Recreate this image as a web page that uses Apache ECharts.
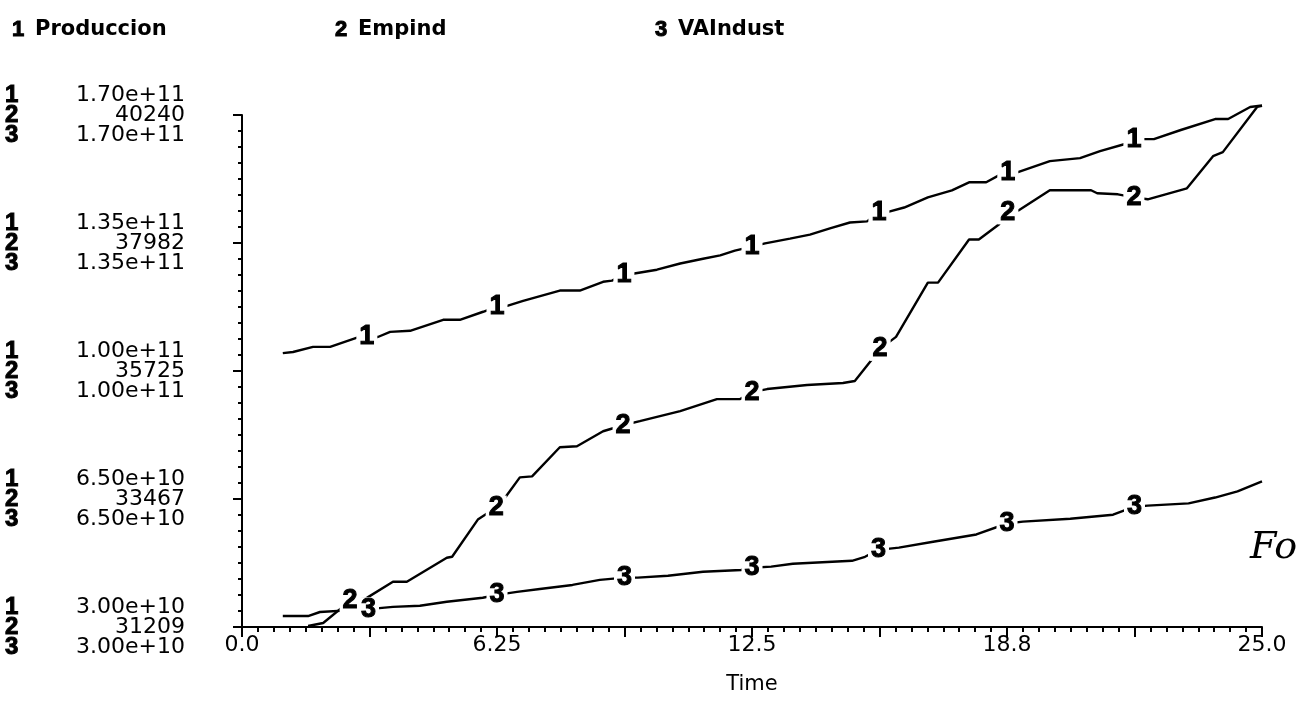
<!DOCTYPE html>
<html>
<head>
<meta charset="utf-8">
<script src="https://cdn.jsdelivr.net/npm/echarts@6/dist/echarts.min.js"></script>
<style>
  html, body { margin: 0; padding: 0; background: #fff; }
  #chart { width: 1296px; height: 709px; }
</style>
</head>
<body>
<div id="chart"></div>
<script>
// Series names, in plotting order (1, 2, 3)
const seriesNames = ['Produccion', 'Empind', 'VAIndust'];

// Produccion: [time, value in 1e9]
const produccion = [
  [1.00,104.9],[1.25,105.2],[1.74,106.6],[2.16,106.6],[2.82,109.1],[3.06,109.3],[3.33,109.3],
  [3.63,110.7],[4.12,111.0],[4.93,114.0],[5.34,114.0],[5.91,116.2],[6.25,117.6],[6.50,117.8],
  [6.89,119.2],[7.79,122.0],[8.28,122.0],[8.85,124.4],[9.07,124.7],[9.36,126.4],[9.58,126.6],
  [10.17,127.7],[10.74,129.4],[11.30,130.7],[11.72,131.6],[12.08,132.9],[12.5,134.0],[12.82,134.9],
  [13.43,136.2],[13.92,137.3],[14.41,139.0],[14.90,140.6],[15.32,140.9],[15.61,143.4],[15.86,143.6],
  [16.23,144.7],[16.81,147.5],[17.40,149.4],[17.82,151.6],[18.24,151.6],[18.55,153.5],[18.77,154.4],
  [19.02,154.4],[19.80,157.4],[20.54,158.2],[21.03,160.1],[21.62,162.0],[21.86,163.4],[22.35,163.4],
  [23.01,165.9],[23.85,168.9],[24.17,168.9],[24.71,172.2],[25.00,172.6]
];

// Empind: [time, value]
const empind = [
  [1.62,31227],[1.99,31280],[2.65,31669],[3.06,31723],[3.70,32006],[4.04,32006],[5.02,32431],
  [5.15,32449],[5.78,33104],[6.23,33316],[6.45,33493],[6.81,33848],[7.11,33865],[7.79,34379],
  [8.21,34396],[8.85,34662],[9.34,34768],[9.75,34839],[10.74,35016],[11.64,35229],[12.21,35229],
  [12.5,35353],[12.87,35406],[13.85,35477],[14.73,35512],[15.02,35548],[15.39,35884],[15.64,36114],
  [16.03,36327],[16.81,37283],[17.06,37283],[17.82,38044],[18.06,38044],[18.55,38310],[18.77,38522],
  [19.04,38558],[19.80,38912],[20.81,38912],[20.96,38859],[21.47,38841],[21.86,38788],[22.20,38753],
  [23.16,38947],[23.80,39514],[24.04,39585],[24.88,40382],[25.00,40400]
];

// VAIndust: [time, value in 1e9]
const vaindust = [
  [1.00,33.0],[1.62,33.0],[1.91,34.1],[3.10,34.9],[3.70,35.5],[4.36,35.8],[5.02,36.9],[5.90,38.0],
  [6.25,38.8],[6.74,39.6],[7.30,40.4],[8.10,41.5],[8.77,42.9],[9.375,43.5],[9.70,43.5],[10.44,44.0],
  [11.30,45.1],[12.23,45.6],[12.5,46.2],[12.97,46.5],[13.50,47.3],[14.95,48.1],[15.27,49.2],[15.6,51.1],
  [16.10,51.7],[16.94,53.3],[18.00,55.3],[18.75,58.3],[19.14,58.8],[20.30,59.6],[21.35,60.7],
  [21.875,62.9],[22.20,63.2],[23.20,63.8],[23.85,65.4],[24.40,67.1],[25.00,69.8]
];

// Times at which each curve carries its number tag
const tagTimes = [
  [3.06, 6.25, 9.36, 12.5, 15.61, 18.77, 21.86],
  [2.65, 6.23, 9.34, 12.5, 15.64, 18.77, 21.86],
  [3.10, 6.25, 9.375, 12.5, 15.6, 18.75, 21.875]
];

// Axis ticks and labels
const xTickValues = [0, 6.25, 12.5, 18.75, 25];
const xTickLabels = ['0.0', '6.25', '12.5', '18.8', '25.0'];
const yTickValues = [30, 65, 100, 135, 170];               // shared scale of series 1 and 3 (×1e9)
const yLabels13 = ['3.00e+10', '6.50e+10', '1.00e+11', '1.35e+11', '1.70e+11'];
const yLabels2 = ['31209', '33467', '35725', '37982', '40240'];
const empindMin = 31209, empindMax = 40240;

const lines = [produccion, empind, vaindust];
const axisIdx = [0, 1, 0];

const chart = echarts.init(document.getElementById('chart'), null, { renderer: 'canvas' });

// Heavy numerals used for the curve tags and the numbered keys
const heavy = {
  fontFamily: 'Liberation Sans',
  fontWeight: 'bold',
  color: '#000',
  textBorderColor: '#000',
  textBorderWidth: 1
};

const series = [];
lines.forEach((data, i) => {
  series.push({
    name: seriesNames[i],
    type: 'line',
    yAxisIndex: axisIdx[i],
    data: data,
    showSymbol: false,
    symbol: 'none',
    clip: false,
    lineStyle: { color: '#000', width: 2.4 },
    z: 2,
    silent: true
  });
  const tags = data.filter(p => tagTimes[i].includes(p[0]));
  series.push({
    type: 'scatter',
    yAxisIndex: axisIdx[i],
    data: tags,
    symbol: 'circle',
    symbolSize: 1,
    itemStyle: { color: '#fff', opacity: 1 },
    clip: false,
    z: 5,
    silent: true,
    label: Object.assign({
      show: true,
      position: 'inside',
      formatter: String(i + 1),
      fontSize: 27,
      opacity: 1,
      backgroundColor: '#fff',
      padding: [0, 3],
      lineHeight: 24
    }, heavy)
  });
});

// Header: numbered series names
const headerX = [12, 335, 655];
const graphics = [];
seriesNames.forEach((name, i) => {
  graphics.push({
    type: 'text', x: headerX[i], y: 30,
    style: { text: String(i + 1), fill: '#000', stroke: '#000', lineWidth: 1, font: 'bold 22px "Liberation Sans"', textVerticalAlign: 'middle' }
  });
  graphics.push({
    type: 'text', x: headerX[i] + 23, y: 30,
    style: { text: name, fill: '#000', font: 'bold 21px "DejaVu Sans"', textVerticalAlign: 'middle' }
  });
});
graphics.push({
  type: 'text', x: 1250, y: 548,
  style: { text: 'Fo', fill: '#000', font: 'italic 38px "DejaVu Serif"', textVerticalAlign: 'middle' }
});

const option = {
  animation: false,
  backgroundColor: '#fff',
  grid: { left: 242, right: 34, top: 115, bottom: 82, containLabel: false },
  xAxis: {
    type: 'value',
    min: 0, max: 25, interval: 3.125,
    name: 'Time',
    nameLocation: 'middle',
    nameGap: 47,
    nameTextStyle: { fontFamily: 'DejaVu Sans', fontSize: 21, color: '#000' },
    axisLine: { show: true, onZero: false, lineStyle: { color: '#000', width: 2 } },
    axisTick: { show: true, length: 10, lineStyle: { color: '#000', width: 2 } },
    minorTick: { show: true, splitNumber: 8, length: 5, lineStyle: { color: '#000', width: 2 } },
    splitLine: { show: false },
    minorSplitLine: { show: false },
    axisLabel: {
      margin: 7,
      fontFamily: 'DejaVu Sans', fontSize: 22, color: '#000',
      formatter: v => {
        const k = xTickValues.findIndex(t => Math.abs(t - v) < 1e-6);
        return k >= 0 ? xTickLabels[k] : '';
      }
    }
  },
  yAxis: [
    {
      type: 'value',
      min: 30, max: 170, interval: 35,
      axisLine: { show: true, onZero: false, lineStyle: { color: '#000', width: 2 } },
      axisTick: { show: true, length: 9, lineStyle: { color: '#000', width: 2 } },
      minorTick: { show: true, splitNumber: 8, length: 4, lineStyle: { color: '#000', width: 2 } },
      splitLine: { show: false },
      minorSplitLine: { show: false },
      axisLabel: {
        margin: 57,
        formatter: v => {
          const k = yTickValues.findIndex(t => Math.abs(t - v) < 1e-6);
          if (k < 0) return '';
          return '{n|1}{v|' + yLabels13[k] + '}\n{n|2}{v|' + yLabels2[k] + '}\n{n|3}{v|' + yLabels13[k] + '}';
        },
        rich: {
          n: Object.assign({ fontSize: 24, width: 62, align: 'left', lineHeight: 20 }, heavy),
          v: { fontFamily: 'DejaVu Sans', fontSize: 22, color: '#000', width: 118, align: 'right', lineHeight: 20 }
        }
      }
    },
    {
      type: 'value',
      min: empindMin, max: empindMax,
      show: false,
      splitLine: { show: false }
    }
  ],
  graphic: graphics,
  series: series
};

chart.setOption(option);
</script>
</body>
</html>
